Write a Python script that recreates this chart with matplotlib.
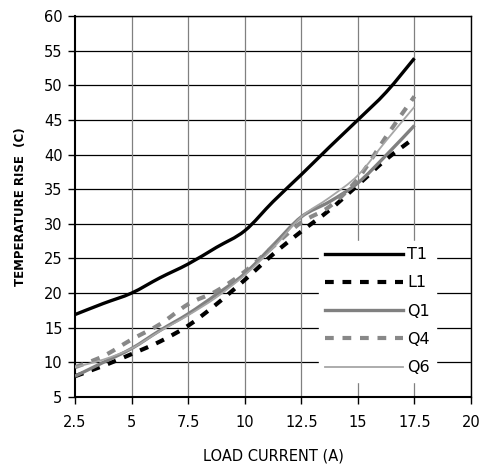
import matplotlib
matplotlib.use("Agg")
import matplotlib.pyplot as plt
from matplotlib.path import Path
from matplotlib.patches import PathPatch
from matplotlib.lines import Line2D
import numpy as np

current = [2.5, 3.75, 5, 6.25, 7.5, 8.75, 10, 11.25, 12.5, 13.75, 15, 16.25, 17.5]
t1 = [16.9, 18.5, 20.0, 22.2, 24.2, 26.6, 29.0, 33.2, 37.1, 41.1, 45.0, 49.0, 53.9]
l1 = [8.0, 9.5, 11.2, 13.0, 15.3, 18.4, 21.9, 25.6, 28.9, 32.0, 35.6, 39.3, 42.4]
q1 = [8.0, 10.0, 12.0, 14.6, 17.0, 19.8, 22.8, 26.9, 31.0, 33.2, 35.9, 39.9, 44.2]
q4 = [9.3, 10.9, 13.3, 15.5, 18.4, 20.3, 23.1, 26.7, 30.2, 32.5, 36.5, 42.6, 48.4]
q6 = [9.3, 10.4, 12.0, 14.5, 16.8, 19.4, 22.6, 26.5, 31.0, 33.8, 37.0, 42.0, 46.9]

series = [
    ("T1", t1, dict(color="black", lw=2.4, ls="-")),
    ("L1", l1, dict(color="black", lw=3.0, ls=(0, (2.1, 2.1)))),
    ("Q1", q1, dict(color="#808080", lw=2.4, ls="-")),
    ("Q4", q4, dict(color="#888888", lw=3.0, ls=(0, (2.1, 2.1)))),
    ("Q6", q6, dict(color="#a6a6a6", lw=1.3, ls="-")),
]


def smooth_path(xs, ys):
    pts = np.column_stack([xs, ys]).astype(float)
    n = len(pts)
    verts = [pts[0]]
    codes = [Path.MOVETO]
    for i in range(n - 1):
        p0 = pts[i - 1] if i > 0 else pts[i]
        p1 = pts[i]
        p2 = pts[i + 1]
        p3 = pts[i + 2] if i + 2 < n else pts[i + 1]
        c1 = p1 + (p2 - p0) / 6.0
        c2 = p2 - (p3 - p1) / 6.0
        verts += [c1, c2, p2]
        codes += [Path.CURVE4] * 3
    return Path(verts, codes)


fig = plt.figure(figsize=(4.83, 4.69), dpi=100)
ax = fig.add_axes([0.1553, 0.1535, 0.8199, 0.8124])

ax.set_xlim(2.5, 20)
ax.set_ylim(5, 60)
ax.set_xticks(np.arange(2.5, 20.01, 2.5))
ax.set_xticklabels(["2.5", "5", "7.5", "10", "12.5", "15", "17.5", "20"])
ax.set_yticks(np.arange(5, 60.01, 5))

for v in np.arange(5, 60.01, 5):
    ax.axhline(v, color="black", lw=0.9, zorder=1)
for v in np.arange(5, 20.01, 2.5):
    ax.axvline(v, color="#808080", lw=0.9, zorder=1)

handles = []
for name, ys, st in series:
    patch = PathPatch(smooth_path(current, ys), facecolor="none", edgecolor=st["color"],
                      lw=st["lw"], linestyle=st["ls"], capstyle="butt", zorder=3)
    ax.add_patch(patch)
    handles.append(Line2D([], [], color=st["color"], lw=st["lw"], linestyle=st["ls"]))

for s in ax.spines.values():
    s.set_color("black")
    s.set_linewidth(1.0)
ax.spines["left"].set_linewidth(1.5)
ax.spines["bottom"].set_linewidth(1.5)

ax.tick_params(axis="both", direction="out", length=5, width=1, labelsize=10.5, pad=4)
ax.tick_params(axis="x", pad=8)

ax.set_xlabel("LOAD CURRENT (A)", fontsize=10.5, labelpad=13)
ax.set_ylabel("TEMPERATURE RISE  (C)", fontsize=8.5, fontweight="bold", labelpad=12)

leg = ax.legend(handles, [s[0] for s in series], loc="upper left",
                bbox_to_anchor=(0.615, 0.41), fontsize=11.5, handlelength=4.9,
                handletextpad=0.25, labelspacing=0.83, frameon=True, fancybox=False,
                borderpad=0.4, borderaxespad=0)
leg.get_frame().set_facecolor("white")
leg.get_frame().set_edgecolor("white")
leg.get_frame().set_alpha(1)
leg.set_zorder(5)

fig.savefig("out.png", dpi=100)
